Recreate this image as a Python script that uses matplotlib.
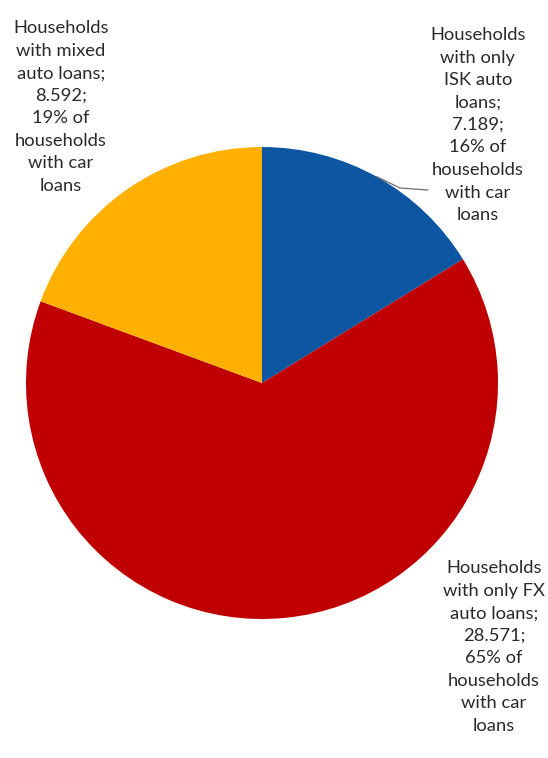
import numpy as np
import matplotlib.pyplot as plt

# household counts by type of auto loan
categories = ["Households\nwith only\nISK auto\nloans;",
              "Households\nwith only FX\nauto loans;",
              "Households\nwith mixed\nauto loans;"]
values = [7.189, 28.571, 8.592]
value_labels = ["7.189;", "28.571;", "8.592;"]
shares = ["16% of\nhouseholds\nwith car\nloans",
          "65% of\nhouseholds\nwith car\nloans",
          "19% of\nhouseholds\nwith car\nloans"]
colors = ["#0C56A2", "#C00000", "#FFB000"]

plt.rcParams['font.family'] = ['Lato', 'DejaVu Sans']

fig = plt.figure(figsize=(5.48, 7.58), dpi=100)
W, H = 548, 758
cx, cy, r = 262, 383, 236
ax = fig.add_axes([(cx - r) / W, (H - cy - r) / H, 2 * r / W, 2 * r / H])
ax.pie(values, colors=colors, startangle=90, counterclock=False,
       radius=1, wedgeprops=dict(linewidth=0))
ax.set_xlim(-1, 1)
ax.set_ylim(-1, 1)
ax.set_aspect('equal')
ax.axis('off')

labels = [f"{c}\n{v}\n{s}" for c, v, s in zip(categories, value_labels, shares)]

# label placement in figure pixels (from top-left)
label_pos = [(478, 125), (494, 647), (61, 107)]

def to_fig(px, py):
    return px / W, 1 - py / H

for lab, (px, py) in zip(labels, label_pos):
    fx, fy = to_fig(px, py)
    fig.text(fx, fy, lab, ha='center', va='center', fontsize=13.2,
             color='#2a2a2a', linespacing=1.5)

# leader line for the ISK slice
sx, sy = cx + r * np.cos(np.deg2rad(61)), cy - r * np.sin(np.deg2rad(61))
fig.add_artist(plt.Line2D([sx / W, 400 / W, 428 / W],
                          [1 - sy / H, 1 - 188 / H, 1 - 190 / H],
                          color='#707070', linewidth=0.9))

fig.savefig("out.png", dpi=100)
